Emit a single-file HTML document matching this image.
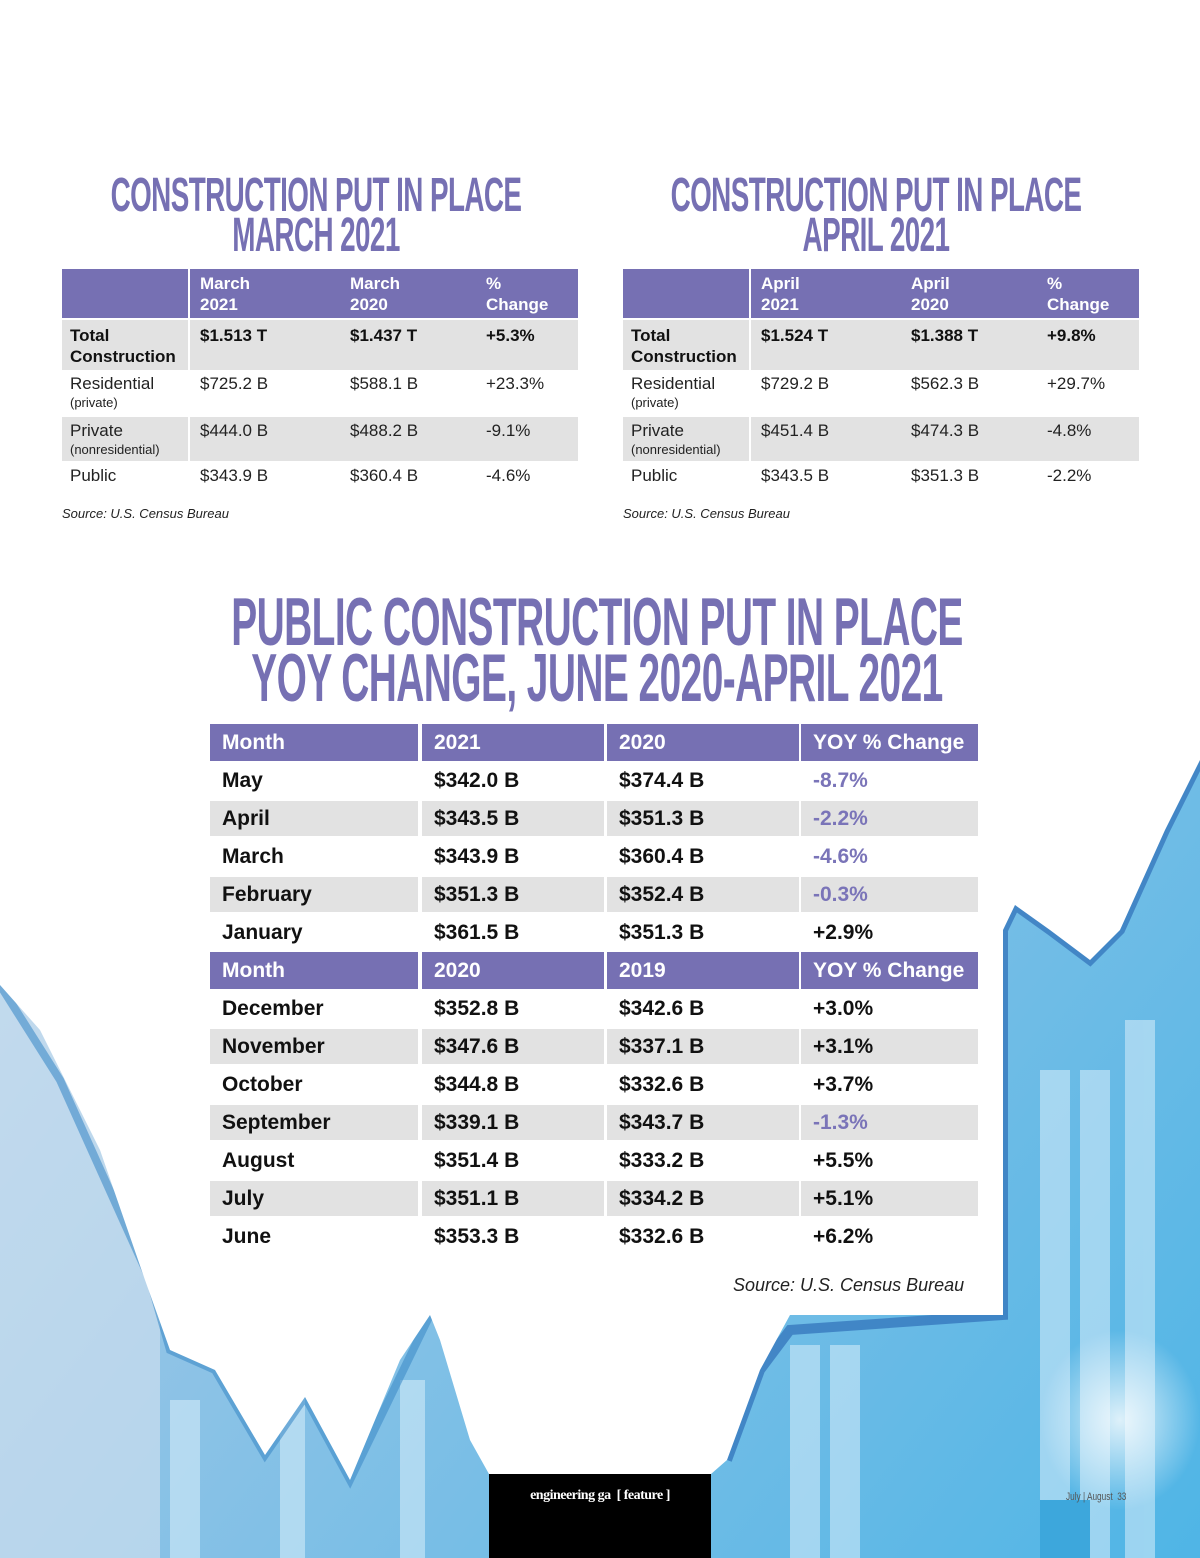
<!DOCTYPE html>
<html><head><meta charset="utf-8">
<style>
*{margin:0;padding:0;box-sizing:border-box}
body{width:1200px;height:1558px;position:relative;overflow:hidden;background:#fff;font-family:"Liberation Sans",sans-serif}
.bg{position:absolute;left:0;top:0}
.title{position:absolute;color:#7670b3;font-weight:bold;text-align:center;white-space:nowrap;transform-origin:center top;letter-spacing:-1px}
.cell{position:absolute;white-space:nowrap;overflow:hidden}
.hdr{background:#7670b3;color:#fff;font-weight:bold}
.gray{background:#e2e2e2}
.src{position:absolute;font-style:italic;color:#222}
</style></head><body>
<svg class="bg" width="1200" height="1558">
<defs>
<linearGradient id="g1" x1="0" y1="0" x2="1" y2="1"><stop offset="0" stop-color="#c9dcef"/><stop offset="0.5" stop-color="#8fc3e6"/><stop offset="1" stop-color="#4fb5e6"/></linearGradient>
<radialGradient id="glow" cx="0.5" cy="0.5" r="0.5"><stop offset="0" stop-color="#ffffff"/><stop offset="1" stop-color="#ffffff" stop-opacity="0"/></radialGradient>
</defs>
<rect width="1200" height="1558" fill="url(#g1)"/>
<rect x="0" y="900" width="160" height="658" fill="#d6e2f0" opacity="0.6"/>
<g fill="#d8eefa" opacity="0.55">
<rect x="170" y="1400" width="30" height="158"/><rect x="280" y="1340" width="25" height="218"/><rect x="400" y="1380" width="25" height="178"/>
<rect x="790" y="1345" width="30" height="213"/><rect x="830" y="1345" width="30" height="213"/><rect x="1040" y="1070" width="30" height="488"/><rect x="1080" y="1070" width="30" height="488"/><rect x="1125" y="1020" width="30" height="538"/>
</g>
<rect x="1040" y="1500" width="50" height="58" fill="#3da7dc"/>
<ellipse cx="1120" cy="1420" rx="80" ry="90" fill="url(#glow)" opacity="0.8"/>
<polyline points="0,985 60,1080 150,1280 170,1350 215,1370 265,1455 305,1397 350,1480 430,1315 465,1315 500,1360 535,1475" fill="none" stroke="#3f8cc8" stroke-width="8" opacity="0.6"/>
<polyline points="727,1460 760,1370 790,1330 1003,1315 1003,930 1015,905 1050,930 1090,960 1120,930 1165,830 1200,760" fill="none" stroke="#2f6fb8" stroke-width="10" opacity="0.7"/>
<polygon fill="#fff" points="0,0 1200,0 1200,760 1165,830 1120,930 1090,960 1050,930 1015,905 1003,930 1003,1315 790,1315 760,1370 727,1460 711,1474 489,1474 470,1440 440,1340 430,1315 400,1360 350,1480 305,1397 265,1455 215,1370 170,1350 145,1280 100,1150 40,1030 0,985"/>
<rect x="489" y="1474" width="222" height="84" fill="#000"/>
</svg>

<div class="title" style="left:-84px;width:800px;top:176px;font-size:48px;line-height:40px;transform:scaleX(0.58)">CONSTRUCTION PUT IN PLACE<br>MARCH 2021</div>
<div class="title" style="left:476px;width:800px;top:176px;font-size:48px;line-height:40px;transform:scaleX(0.58)">CONSTRUCTION PUT IN PLACE<br>APRIL 2021</div>
<div class="title" style="left:-103px;width:1400px;top:594px;font-size:68px;line-height:56px;transform:scaleX(0.572)">PUBLIC CONSTRUCTION PUT IN PLACE<br>YOY CHANGE, JUNE 2020-APRIL 2021</div>

<div class="src" style="left:62px;top:506px;font-size:13px">Source: U.S. Census Bureau</div>
<div class="src" style="left:623px;top:506px;font-size:13px">Source: U.S. Census Bureau</div>
<div class="src" style="left:733px;top:1275px;font-size:18px">Source: U.S. Census Bureau</div>

<div style="position:absolute;left:489px;width:222px;top:1488px;text-align:center;color:#fff;font-family:'Liberation Serif',serif;font-weight:bold;font-size:14px;letter-spacing:-0.5px">engineering ga &nbsp;[ feature ]</div>
<div style="position:absolute;left:1066px;top:1491px;color:#555;font-size:11px;transform:scaleX(0.75);transform-origin:left top">July | August &nbsp;33</div>

<div id="root"></div>
<script>
const smallCols=[[0,126],[128,150],[278,136],[414,102]];
const marchRows=[["Total|Construction","$1.513 T","$1.437 T","+5.3%"],["Residential|(private)","$725.2 B","$588.1 B","+23.3%"],["Private|(nonresidential)","$444.0 B","$488.2 B","-9.1%"],["Public","$343.9 B","$360.4 B","-4.6%"]];
const aprilRows=[["Total|Construction","$1.524 T","$1.388 T","+9.8%"],["Residential|(private)","$729.2 B","$562.3 B","+29.7%"],["Private|(nonresidential)","$451.4 B","$474.3 B","-4.8%"],["Public","$343.5 B","$351.3 B","-2.2%"]];
const marchHdr=["","March<br>2021","March<br>2020","%<br>Change"];
const aprilHdr=["","April<br>2021","April<br>2020","%<br>Change"];
const root=document.getElementById('root');
function cell(x,y,w,h,html,cls,style){
  const d=document.createElement('div');
  d.className='cell '+cls;
  d.style.cssText=`left:${x}px;top:${y}px;width:${w}px;height:${h}px;`+style;
  d.innerHTML=html;
  root.appendChild(d);
  return d;
}
function small(x0,hdr,rows,name){
  const rowY=[[320,50],[370,46],[417,44],[462,44]];
  hdr.forEach((h,i)=>{
    const c=cell(x0+smallCols[i][0],269,smallCols[i][1],49,h,'hdr','padding:4px 10px;font-size:17px;line-height:21px');
    
    
  });
  rows.forEach((r,ri)=>{
    r.forEach((v,i)=>{
      const bold=ri===0;
      let html=v;
      if(i===0&&v.includes('|')){const p=v.split('|');html=bold?p[0]+'<br>'+p[1]:p[0]+'<br><span style="font-size:13px">'+p[1]+'</span>';}
      const lh=bold?21:18;
      const c=cell(x0+smallCols[i][0],rowY[ri][0],smallCols[i][1],rowY[ri][1],html,(ri%2===0?'gray':''),`padding:5px ${i===0?8:10}px;font-size:17px;line-height:${lh}px;color:#222;${bold?'font-weight:bold;color:#111':''}`);
      
      
    });
  });
}
small(62,marchHdr,marchRows,'march-table');
small(623,aprilHdr,aprilRows,'april-table');

const bigCols=[[210,208],[422,182],[607,192],[801,177]];
const months1=["May","April","March","February","January"];
const v2021=["$342.0 B","$343.5 B","$343.9 B","$351.3 B","$361.5 B"];
const v2020a=["$374.4 B","$351.3 B","$360.4 B","$352.4 B","$351.3 B"];
const chg1=["-8.7%","-2.2%","-4.6%","-0.3%","+2.9%"];
const months2=["December","November","October","September","August","July","June"];
const v2020b=["$352.8 B","$347.6 B","$344.8 B","$339.1 B","$351.4 B","$351.1 B","$353.3 B"];
const v2019=["$342.6 B","$337.1 B","$332.6 B","$343.7 B","$333.2 B","$334.2 B","$332.6 B"];
const chg2=["+3.0%","+3.1%","+3.7%","-1.3%","+5.5%","+5.1%","+6.2%"];
function bigHdr(y,labels){
  labels.forEach((l,i)=>{
    const c=cell(bigCols[i][0],y,bigCols[i][1],37,l,'hdr','padding:0 12px;font-size:21px;line-height:37px');
    
    
  });
}
function bigRows(y0,m,a,b,c3){
  m.forEach((mo,r)=>{
    const vals=[mo,a[r],b[r],c3[r]];
    const y=y0+r*38;
    vals.forEach((v,i)=>{
      const neg=i===3&&v[0]==='-';
      const c=cell(bigCols[i][0],y+(r%2?1:0),bigCols[i][1],r%2?35:38,v,r%2?'gray':'',`padding:0 12px;font-size:21px;line-height:${r%2?35:38}px;font-weight:bold;color:${neg?'#7a74b8':'#111'}`);
      
      
    });
  });
}
bigHdr(724,["Month","2021","2020","YOY % Change"]);
bigRows(762,months1,v2021,v2020a,chg1);
bigHdr(952,["Month","2020","2019","YOY % Change"]);
bigRows(990,months2,v2020b,v2019,chg2);
</script>
</body></html>
